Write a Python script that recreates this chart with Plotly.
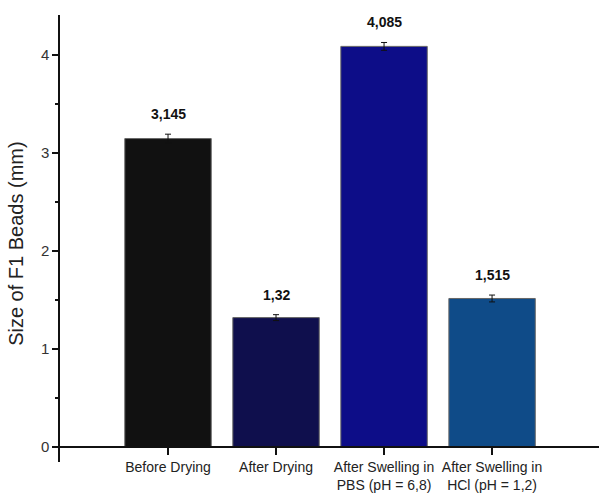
import plotly.graph_objects as go

# Bead size measurements (mm)
categories = ["Before Drying", "After Drying",
              "After Swelling in<br>PBS (pH = 6,8)",
              "After Swelling in<br>HCl (pH = 1,2)"]
sizes = [3.145, 1.32, 4.085, 1.515]
errors = [0.045, 0.03, 0.04, 0.035]
value_labels = ["3,145", "1,32", "4,085", "1,515"]
bar_colors = ["#111111", "#0f0f4d", "#0d0d88", "#0f4b88"]

y_min, y_max = -0.152, 4.405

fig = go.Figure()
fig.add_trace(go.Bar(
    x=list(range(len(categories))),
    y=sizes,
    width=0.8,
    marker=dict(color=bar_colors, line=dict(color="#666666", width=1)),
    error_y=dict(type="data", array=errors, visible=True,
                 color="#111111", thickness=1, width=3),
    showlegend=False,
))

for i, (v, e, t) in enumerate(zip(sizes, errors, value_labels)):
    fig.add_annotation(x=i, y=v + e, text=f"<b>{t}</b>", showarrow=False,
                       yanchor="bottom", yshift=10,
                       font=dict(family="Liberation Sans, Arial", size=14, color="#111111"))

# y-axis title
fig.add_annotation(xref="paper", x=-0.082, yref="y", y=2.08,
                   text="Size of F1 Beads (mm)", textangle=-90, showarrow=False,
                   xanchor="center", yanchor="middle",
                   font=dict(family="Liberation Sans, Arial", size=20, color="#222222"))

fig.update_layout(
    width=599, height=493,
    margin=dict(l=60, r=0, t=15, b=28),
    paper_bgcolor="white", plot_bgcolor="white",
    font=dict(family="Liberation Sans, Arial", color="#222222"),
    xaxis=dict(
        range=[-1.0, 3.99],
        tickmode="array", tickvals=list(range(len(categories))), ticktext=categories,
        showline=True, linecolor="#111111", linewidth=1.5,
        ticks="outside", ticklen=7, tickwidth=1.5, tickcolor="#111111",
        tickfont=dict(size=14, color="#222222"),
        anchor="free", position=(0 - y_min) / (y_max - y_min),
        showgrid=False, zeroline=False,
    ),
    yaxis=dict(
        range=[y_min, y_max],
        tickvals=[0, 1, 2, 3, 4],
        showline=True, linecolor="#111111", linewidth=1.5,
        ticks="outside", ticklen=6, tickwidth=1.5, tickcolor="#111111",
        tickfont=dict(size=15, color="#333333"),
        minor=dict(dtick=0.5, ticks="outside", ticklen=3, tickwidth=1.5,
                   tickcolor="#111111", showgrid=False),
        showgrid=False, zeroline=False,
    ),
)

fig.write_html("out.html")
